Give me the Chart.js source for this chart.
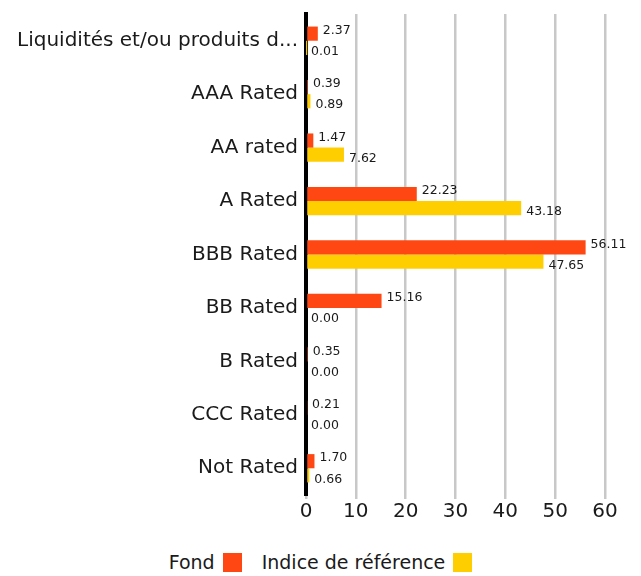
<!DOCTYPE html>
<html>
<head>
<meta charset="utf-8">
<script src="https://cdn.jsdelivr.net/npm/chart.js@4"></script>
<style>
  body { margin: 0; background: #fff; }
  #wrap { position: relative; width: 641px; height: 525px; }
  #legend {
    display: flex; justify-content: center; align-items: center;
    font-family: "DejaVu Sans", sans-serif; font-size: 19px; color: #1a1a1a;
    margin-top: 26px;
  }
  #legend span.box { display: inline-block; width: 19px; height: 19px; margin-left: 8px; }
  #legend .item { display: flex; align-items: center; margin: 0 10px; }
</style>
</head>
<body>
<div id="wrap"><canvas id="chart"></canvas></div>
<div id="legend"></div>
<script>
const categories = [
  "Liquidités et/ou produits d...",
  "AAA Rated",
  "AA rated",
  "A Rated",
  "BBB Rated",
  "BB Rated",
  "B Rated",
  "CCC Rated",
  "Not Rated"
];
const fondValues = [2.37, 0.39, 1.47, 22.23, 56.11, 15.16, 0.35, 0.21, 1.70];
const indiceValues = [0.01, 0.89, 7.62, 43.18, 47.65, 0.00, 0.00, 0.00, 0.66];
const xTicks = [0, 10, 20, 30, 40, 50, 60];

const seriesNames = ["Fond", "Indice de référence"];
const seriesColors = ["#FF4713", "#FFCE00"];

const valueLabels = {
  id: "valueLabels",
  afterDatasetsDraw(chart) {
    const ctx = chart.ctx;
    ctx.save();
    ctx.font = "12.5px 'DejaVu Sans', sans-serif";
    ctx.fillStyle = "#1a1a1a";
    ctx.textBaseline = "middle";
    ctx.textAlign = "left";
    chart.data.datasets.forEach((ds, i) => {
      const meta = chart.getDatasetMeta(i);
      meta.data.forEach((bar, j) => {
        const dy = i === 0 ? -3 : 4;
        ctx.fillText(ds.data[j].toFixed(2), bar.x + 5, bar.y + dy);
      });
    });
    ctx.restore();
  }
};

const chart = new Chart(document.getElementById("chart"), {
  type: "bar",
  data: {
    labels: categories,
    datasets: [
      { label: seriesNames[0], data: fondValues, backgroundColor: seriesColors[0] },
      { label: seriesNames[1], data: indiceValues, backgroundColor: seriesColors[1] }
    ]
  },
  options: {
    indexAxis: "y",
    responsive: true,
    maintainAspectRatio: false,
    animation: false,
    layout: { padding: { top: 14, right: 36, left: 0, bottom: 0 } },
    datasets: { bar: { barPercentage: 1, categoryPercentage: 0.53 } },
    scales: {
      x: {
        min: 0, max: 60,
        afterBuildTicks: (axis) => { axis.ticks = xTicks.map(v => ({ value: v })); },
        grid: { color: "#c8c8c8", lineWidth: 2.5, drawTicks: true, tickLength: 4 },
        border: { display: false },
        ticks: { color: "#1a1a1a", font: { family: "DejaVu Sans", size: 20 }, padding: 1 }
      },
      y: {
        afterFit: (axis) => { axis.width = 306; },
        grid: { display: false },
        border: { display: true, color: "#000", width: 4 },
        ticks: { color: "#1a1a1a", font: { family: "DejaVu Sans", size: 20 }, padding: 0 }
      }
    },
    plugins: {
      legend: { display: false },
      tooltip: { enabled: false }
    }
  },
  plugins: [valueLabels]
});

const legend = document.getElementById("legend");
seriesNames.forEach((name, i) => {
  const item = document.createElement("div");
  item.className = "item";
  item.innerHTML = name + '<span class="box" style="background:' + seriesColors[i] + '"></span>';
  legend.appendChild(item);
});
</script>
</body>
</html>
